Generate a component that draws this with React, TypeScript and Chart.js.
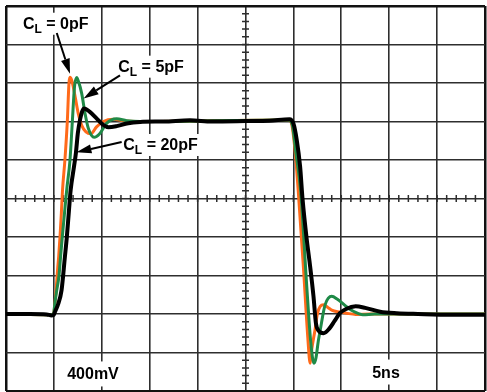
import React, { useEffect, useRef } from "react";
import { Chart, registerables } from "chart.js";

Chart.register(...registerables);

// Time axis and amplitude axis are in scope divisions (10 x 10 grid)
const X_DIVS = [0, 10];
const Y_DIVS = [0, 10];
const V_SCALE_LABEL = "400mV";
const T_SCALE_LABEL = "5ns";

// C_L = 20pF (black)
const T_20PF = [0, 0.5, 0.85, 0.95, 0.99, 1.03, 1.09, 1.16, 1.23, 1.27, 1.315, 1.35, 1.42, 1.46, 1.5, 1.545, 1.59, 1.63, 1.75, 1.89, 2.03, 2.14, 2.31, 2.52, 2.8, 3.3, 3.84, 4.3, 5.0, 5.5, 5.92, 6.0, 6.07, 6.14, 6.19, 6.28, 6.35, 6.42, 6.47, 6.53, 6.63, 6.75, 6.86, 6.97, 7.1, 7.3, 7.5, 7.81, 8.16, 8.6, 9.3, 10];
const V_20PF = [2.0, 2.0, 1.99, 1.96, 1.97, 2.08, 2.26, 2.62, 3.49, 4.0, 4.7, 5.22, 5.83, 6.19, 6.7, 7.04, 7.26, 7.34, 7.25, 7.08, 6.91, 6.85, 6.88, 6.95, 6.99, 7.0, 7.03, 7.0, 7.01, 7.02, 7.06, 6.95, 6.52, 5.83, 5.0, 3.92, 3.23, 2.45, 1.76, 1.56, 1.5, 1.62, 1.82, 2.02, 2.13, 2.2, 2.16, 2.06, 2.02, 2.0, 1.98, 1.98];

// C_L = 0pF (orange)
const T_0PF = [0, 0.95, 0.99, 1.02, 1.05, 1.08, 1.1, 1.127, 1.155, 1.18, 1.23, 1.28, 1.315, 1.336, 1.37, 1.405, 1.45, 1.51, 1.58, 1.67, 1.77, 1.89, 2.03, 2.24, 2.45, 2.7, 5.9, 5.97, 6.03, 6.1, 6.21, 6.3, 6.35, 6.38, 6.45, 6.5, 6.56, 6.63, 6.72, 6.8, 6.97, 7.11, 7.3, 7.6, 10];
const V_0PF = [2.0, 1.98, 1.98, 2.25, 2.7, 3.2, 3.49, 4.0, 4.6, 5.22, 6.0, 7.0, 8.0, 8.15, 8.08, 7.9, 7.6, 7.2, 6.9, 6.73, 6.68, 6.86, 7.0, 7.06, 7.02, 7.0, 7.04, 6.9, 6.3, 5.22, 3.2, 1.4, 0.72, 1.06, 1.58, 2.0, 2.2, 2.24, 2.17, 2.1, 2.05, 2.02, 1.99, 2.0, 2.0];

// C_L = 5pF (green)
const T_5PF = [0, 0.95, 0.99, 1.02, 1.06, 1.107, 1.14, 1.175, 1.22, 1.267, 1.336, 1.385, 1.43, 1.476, 1.51, 1.58, 1.65, 1.72, 1.84, 1.96, 2.1, 2.31, 2.52, 2.8, 5.9, 5.98, 6.05, 6.15, 6.28, 6.36, 6.43, 6.47, 6.52, 6.56, 6.66, 6.8, 6.92, 7.11, 7.25, 7.36, 7.45, 7.7, 10];
const V_5PF = [2.0, 1.98, 1.98, 2.28, 2.62, 3.0, 3.5, 4.0, 4.6, 5.22, 6.0, 7.0, 7.9, 8.14, 8.05, 7.73, 7.21, 6.82, 6.59, 6.69, 6.95, 7.07, 7.02, 7.0, 7.04, 6.9, 6.2, 5.22, 2.7, 1.3, 0.72, 0.85, 1.3, 1.58, 2.23, 2.46, 2.38, 2.19, 2.07, 2.01, 1.98, 2.0, 2.0];

// Annotation anchors (in divisions)
const CALLOUTS = [
  { value: "0pF", tx: 0.355, ty: 9.41, ax1: 1.06, ay1: 9.3, ax2: 1.336, ay2: 8.24 },
  { value: "5pF", tx: 2.344, ty: 8.294, ax1: 2.38, ay1: 8.2, ax2: 1.62, ay2: 7.6 },
  { value: "20pF", tx: 2.449, ty: 6.26, ax1: 2.415, ay1: 6.47, ax2: 1.47, ay2: 6.2 },
];
const SCALE_LABELS = [
  { text: V_SCALE_LABEL, cx: 1.816, by: 0.3 },
  { text: T_SCALE_LABEL, cx: 7.933, by: 0.35 },
];

const GRID = "#2e2e2e";
const FONT = '"Liberation Sans", Arial, sans-serif';

const toPts = (t: number[], v: number[]) => t.map((x, i) => ({ x, y: v[i] }));

function drawArrow(ctx: CanvasRenderingContext2D, x1: number, y1: number, x2: number, y2: number) {
  const ang = Math.atan2(y2 - y1, x2 - x1);
  const hl = 15, hw = 4.5;
  const bx = x2 - hl * Math.cos(ang), by = y2 - hl * Math.sin(ang);
  ctx.beginPath();
  ctx.moveTo(x1, y1);
  ctx.lineTo(bx, by);
  ctx.lineWidth = 2;
  ctx.strokeStyle = "#000";
  ctx.stroke();
  ctx.beginPath();
  ctx.moveTo(x2, y2);
  ctx.lineTo(bx + hw * Math.sin(ang), by - hw * Math.cos(ang));
  ctx.lineTo(bx - hw * Math.sin(ang), by + hw * Math.cos(ang));
  ctx.closePath();
  ctx.fillStyle = "#000";
  ctx.fill();
}

const scopePlugin = {
  id: "scopeDecor",
  beforeDatasetsDraw(chart: any) {
    const { ctx, scales } = chart;
    const x = scales.x, y = scales.y;
    const cx = x.getPixelForValue(5), cy = y.getPixelForValue(5);
    ctx.save();
    ctx.strokeStyle = GRID;
    ctx.lineWidth = 1.5;
    ctx.beginPath();
    for (let i = 1; i < 50; i++) {
      const px = x.getPixelForValue(i * 0.2);
      ctx.moveTo(px, cy - 3.5);
      ctx.lineTo(px, cy + 3.5);
      const py = y.getPixelForValue(i * 0.2);
      ctx.moveTo(cx - 3.5, py);
      ctx.lineTo(cx + 3.5, py);
    }
    ctx.stroke();
    ctx.restore();
  },
  afterDatasetsDraw(chart: any) {
    const { ctx, scales } = chart;
    const x = scales.x, y = scales.y;
    ctx.save();
    ctx.textBaseline = "alphabetic";
    ctx.textAlign = "left";
    const big = `bold 16px ${FONT}`;
    const small = `bold 12px ${FONT}`;
    for (const c of CALLOUTS) {
      const px = x.getPixelForValue(c.tx), py = y.getPixelForValue(c.ty);
      ctx.font = big;
      const wC = ctx.measureText("C").width;
      const rest = " = " + c.value;
      const wR = ctx.measureText(rest).width;
      ctx.font = small;
      const wL = ctx.measureText("L").width;
      const w = wC + wL + wR;
      ctx.fillStyle = "#fff";
      ctx.fillRect(px - 3, py - 16, w + 6, 22);
      ctx.fillStyle = "#000";
      ctx.font = big;
      ctx.fillText("C", px, py);
      ctx.font = small;
      ctx.fillText("L", px + wC, py + 4);
      ctx.font = big;
      ctx.fillText(rest, px + wC + wL, py);
      drawArrow(ctx, x.getPixelForValue(c.ax1), y.getPixelForValue(c.ay1), x.getPixelForValue(c.ax2), y.getPixelForValue(c.ay2));
    }
    for (const s of SCALE_LABELS) {
      ctx.font = big;
      const w = ctx.measureText(s.text).width;
      const px = x.getPixelForValue(s.cx), py = y.getPixelForValue(s.by);
      ctx.fillStyle = "#fff";
      ctx.fillRect(px - w / 2 - 4, py - 18, w + 8, 25);
      ctx.fillStyle = "#000";
      ctx.textAlign = "center";
      ctx.fillText(s.text, px, py);
      ctx.textAlign = "left";
    }
    ctx.restore();
  },
};

export default function App() {
  const ref = useRef<HTMLCanvasElement | null>(null);
  useEffect(() => {
    if (!ref.current) return;
    const gridWidth = (c: any) => (c.tick && (c.tick.value === 0 || c.tick.value === 10) ? 2.5 : 1.6);
    const gridColor = (c: any) => (c.tick && (c.tick.value === 0 || c.tick.value === 10) ? "#111" : GRID);
    const chart = new Chart(ref.current, {
      type: "line",
      data: {
        datasets: [
          { label: "CL = 20pF", data: toPts(T_20PF, V_20PF), borderColor: "#000000", borderWidth: 4 },
          { label: "CL = 5pF", data: toPts(T_5PF, V_5PF), borderColor: "#1f8a47", borderWidth: 3 },
          { label: "CL = 0pF", data: toPts(T_0PF, V_0PF), borderColor: "#ff6a1a", borderWidth: 3 },
        ].map((d) => ({ ...d, pointRadius: 0, fill: false, cubicInterpolationMode: "monotone" as const, borderCapStyle: "round" as const, borderJoinStyle: "round" as const })),
      },
      options: {
        animation: false,
        responsive: false,
        maintainAspectRatio: false,
        devicePixelRatio: 1,
        layout: { padding: { left: 6, top: 6, right: 2, bottom: 1 } },
        plugins: { legend: { display: false }, tooltip: { enabled: false } },
        events: [],
        scales: {
          x: {
            type: "linear",
            min: X_DIVS[0],
            max: X_DIVS[1],
            ticks: { stepSize: 1, display: false },
            grid: { drawTicks: false, color: gridColor, lineWidth: gridWidth },
            border: { display: false },
          },
          y: {
            type: "linear",
            min: Y_DIVS[0],
            max: Y_DIVS[1],
            ticks: { stepSize: 1, display: false },
            grid: { drawTicks: false, color: gridColor, lineWidth: gridWidth },
            border: { display: false },
          },
        },
      },
      plugins: [scopePlugin],
    });
    return () => chart.destroy();
  }, []);
  return (
    <div style={{ position: "fixed", left: 0, top: 0, width: 487, height: 392, background: "#fff" }}>
      <canvas ref={ref} width={487} height={392} style={{ display: "block" }} />
    </div>
  );
}
